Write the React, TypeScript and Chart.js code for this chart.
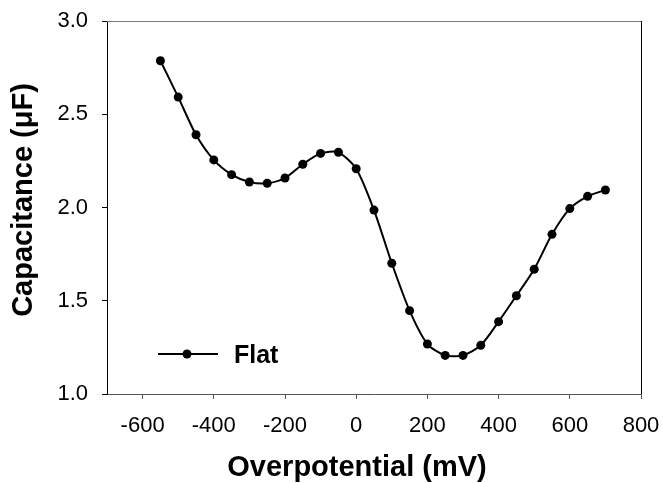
import React, { useEffect, useRef } from "react";
import { Chart, registerables } from "chart.js";

Chart.register(...registerables);

const potentials = [-550, -500, -450, -400, -350, -300, -250, -200, -150, -100, -50, 0, 50, 100, 150, 200, 250, 300, 350, 400, 450, 500, 550, 600, 650, 700];
const capacitance = [2.787, 2.592, 2.39, 2.255, 2.176, 2.137, 2.13, 2.158, 2.232, 2.29, 2.296, 2.208, 1.986, 1.701, 1.447, 1.268, 1.207, 1.207, 1.261, 1.388, 1.527, 1.669, 1.856, 1.994, 2.06, 2.094];
const xTickValues = [-600, -400, -200, 0, 200, 400, 600, 800];
const yTickValues = [1.0, 1.5, 2.0, 2.5, 3.0];
const seriesName = "Flat";
const xTitle = "Overpotential (mV)";
const yTitle = "Capacitance (\u03bcF)";

const FONT = "'Liberation Sans', Arial, sans-serif";

const decorPlugin = {
  id: "decor",
  afterDraw(chart: any) {
    const { ctx, chartArea } = chart;
    const { left, right, top, bottom } = chartArea;
    ctx.save();
    // top border (gray) and right border (black)
    ctx.lineWidth = 1;
    ctx.strokeStyle = "#7a7a7a";
    ctx.beginPath();
    ctx.moveTo(left, top + 0.5);
    ctx.lineTo(right, top + 0.5);
    ctx.stroke();
    ctx.strokeStyle = "#000";
    ctx.beginPath();
    ctx.moveTo(right + 0.5, top);
    ctx.lineTo(right + 0.5, bottom);
    ctx.stroke();

    // legend inside plot
    const ly = bottom - 40;
    const lx = left + 51;
    ctx.strokeStyle = "#000";
    ctx.lineWidth = 2;
    ctx.beginPath();
    ctx.moveTo(lx, ly);
    ctx.lineTo(lx + 60, ly);
    ctx.stroke();
    ctx.fillStyle = "#000";
    ctx.beginPath();
    ctx.arc(lx + 29, ly, 4.5, 0, Math.PI * 2);
    ctx.fill();
    ctx.font = `bold 25px ${FONT}`;
    ctx.textAlign = "left";
    ctx.textBaseline = "middle";
    ctx.fillText(seriesName, lx + 76, ly + 2);

    // axis titles
    ctx.font = `bold 29px ${FONT}`;
    ctx.textAlign = "center";
    ctx.textBaseline = "middle";
    ctx.fillText(xTitle, 357, 468);
    ctx.translate(24, 200);
    ctx.rotate(-Math.PI / 2);
    ctx.fillText(yTitle, 0, 0);
    ctx.restore();
  },
};

export default function App() {
  const ref = useRef<HTMLCanvasElement>(null);
  useEffect(() => {
    document.body.style.margin = "0";
    const chart = new Chart(ref.current!, {
      type: "line",
      data: {
        datasets: [
          {
            label: seriesName,
            data: potentials.map((x, i) => ({ x, y: capacitance[i] })),
            borderColor: "#000",
            backgroundColor: "#000",
            borderWidth: 2,
            pointRadius: 4.5,
            pointBorderWidth: 0,
            pointBackgroundColor: "#000",
            tension: 0.25,
            fill: false,
          },
        ],
      },
      options: {
        animation: false,
        responsive: false,
        maintainAspectRatio: false,
        layout: { padding: { top: 21, right: 22, left: 0, bottom: 0 } },
        plugins: { legend: { display: false }, tooltip: { enabled: false } },
        scales: {
          x: {
            type: "linear",
            min: -700,
            max: 800,
            afterBuildTicks: (s: any) => {
              s.ticks = xTickValues.map((v) => ({ value: v }));
            },
            afterFit: (s: any) => {
              s.height = 89;
              s.paddingLeft = 0;
              s.paddingRight = 0;
            },
            grid: { display: true, drawOnChartArea: false, tickLength: 5, color: "#555", tickColor: "#555" },
            border: { display: true, color: "#555", width: 1 },
            ticks: {
              padding: 14,
              color: "#000",
              font: { family: FONT, size: 22 },
              maxRotation: 0,
              autoSkip: false,
              callback: (v: any) => String(v),
            },
          },
          y: {
            type: "linear",
            min: 1.0,
            max: 3.0,
            afterBuildTicks: (s: any) => {
              s.ticks = yTickValues.map((v) => ({ value: v }));
            },
            afterFit: (s: any) => {
              s.width = 107;
              s.paddingTop = 0;
              s.paddingBottom = 0;
            },
            grid: { display: true, drawOnChartArea: false, tickLength: 5, color: "#000", tickColor: "#000" },
            border: { display: true, color: "#000", width: 1 },
            ticks: {
              padding: 14,
              color: "#000",
              font: { family: FONT, size: 22 },
              callback: (v: any) => Number(v).toFixed(1),
            },
          },
        },
      },
      plugins: [decorPlugin],
    });
    return () => chart.destroy();
  }, []);
  return (
    <div style={{ width: 663, height: 483, background: "#fff" }}>
      <canvas ref={ref} width={663} height={483} style={{ display: "block" }} />
    </div>
  );
}
